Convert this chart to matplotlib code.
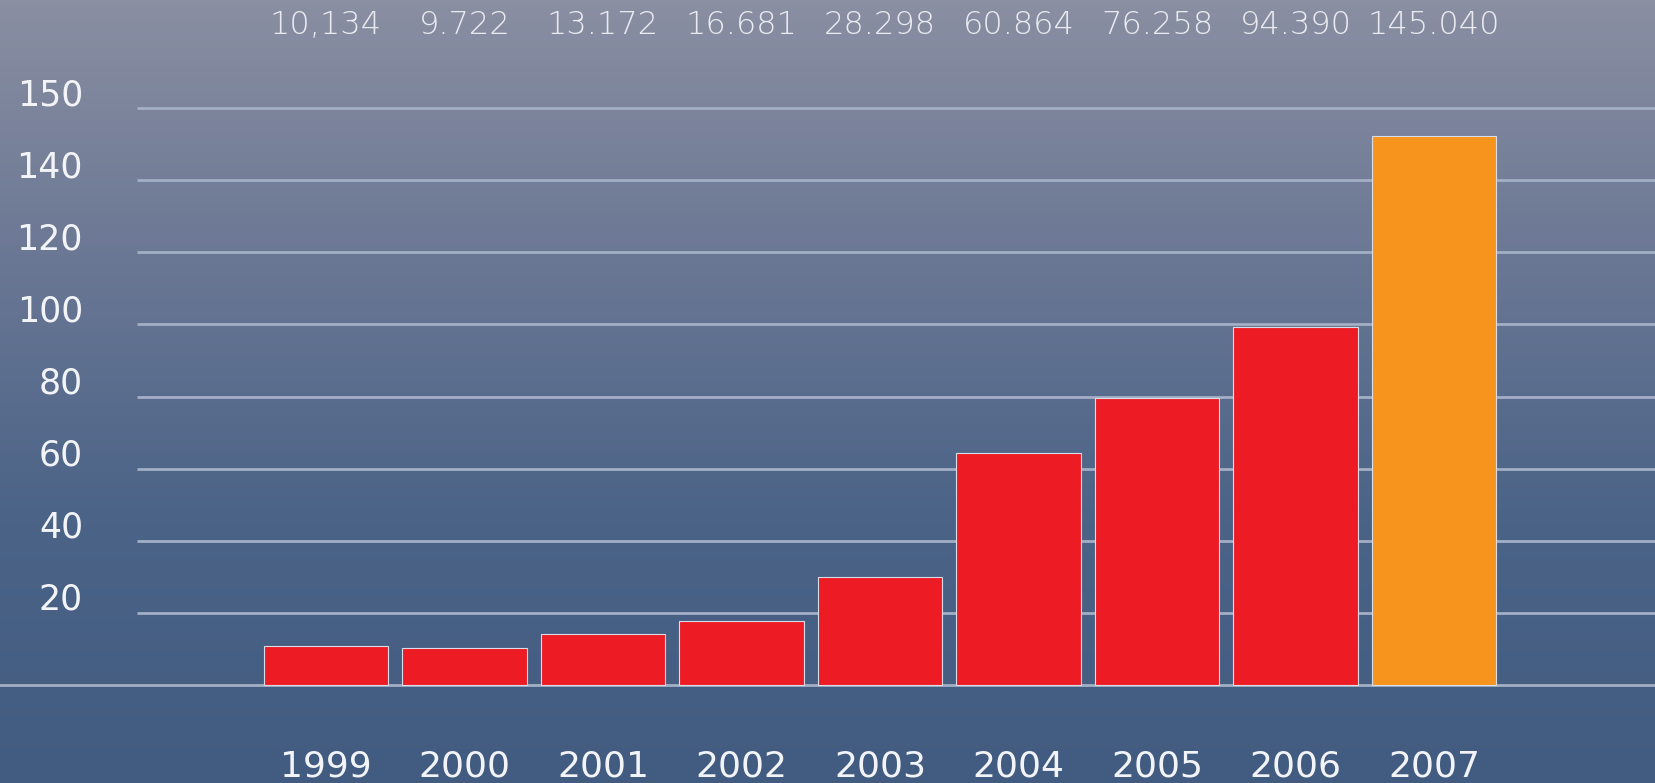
import numpy as np
import matplotlib
matplotlib.use('Agg')
import matplotlib.pyplot as plt
from matplotlib.colors import LinearSegmentedColormap

# data
years = ['1999', '2000', '2001', '2002', '2003', '2004', '2005', '2006', '2007']
value_labels = ['10,134', '9.722', '13.172', '16.681', '28.298', '60.864', '76.258', '94.390', '145.040']
bar_heights = [10.9, 10.2, 14.0, 17.6, 30.0, 64.3, 79.5, 99.3, 152.3]
bar_colors = ['#ed1c24'] * 8 + ['#f7941d']
grid_levels = [20, 40, 60, 80, 100, 120, 140, 160]
grid_labels = ['20', '40', '60', '80', '100', '120', '140', '150']

fig = plt.figure(figsize=(16.55, 7.83), dpi=100)
ax = fig.add_axes([0, 0, 1, 1])

x0, x1 = -2.354, 9.596
y0, y1 = -27.2, 190.0
ax.set_xlim(x0, x1)
ax.set_ylim(y0, y1)
ax.axis('off')

# background gradient, light grey-blue at top to dark blue at bottom
bg = LinearSegmentedColormap.from_list('bg', ['#425b80', '#4a6387', '#6a7794', '#8a8fa2'])
grad = np.linspace(0, 1, 256).reshape(-1, 1)
ax.imshow(grad, cmap=bg, origin='lower', extent=[x0, x1, y0, y1], aspect='auto', zorder=0)

# grid lines (start a bit right of the labels), baseline full width
gx_start = x0 + 137 / 138.5
for lvl in grid_levels:
    ax.plot([gx_start, x1], [lvl, lvl], color='#a3afc4', lw=2, zorder=1, solid_capstyle='butt')
ax.plot([x0, x1], [0, 0], color='#a3afc4', lw=2, zorder=1)

# y labels sit just above their lines
lab_x = x0 + 83 / 138.5
for lvl, lab in zip(grid_levels, grid_labels):
    ax.text(lab_x, lvl + 3.6, lab, ha='right', va='center', fontsize=25, color='#f2f4f8')

x = np.arange(len(years))
ax.bar(x, bar_heights, width=0.9, color=bar_colors, edgecolor='#d9dde8', linewidth=0.8, zorder=2)

# year labels below, value labels on top
for xi, yr in zip(x, years):
    ax.text(xi, -22.5, yr, ha='center', va='center', fontsize=26, color='#f2f4f8')
for xi, v in zip(x, value_labels):
    ax.text(xi, 183.0, v, ha='center', va='center', fontsize=23, color='#e9ebf0',
            fontweight='light')

plt.savefig('out.png', dpi=100)
